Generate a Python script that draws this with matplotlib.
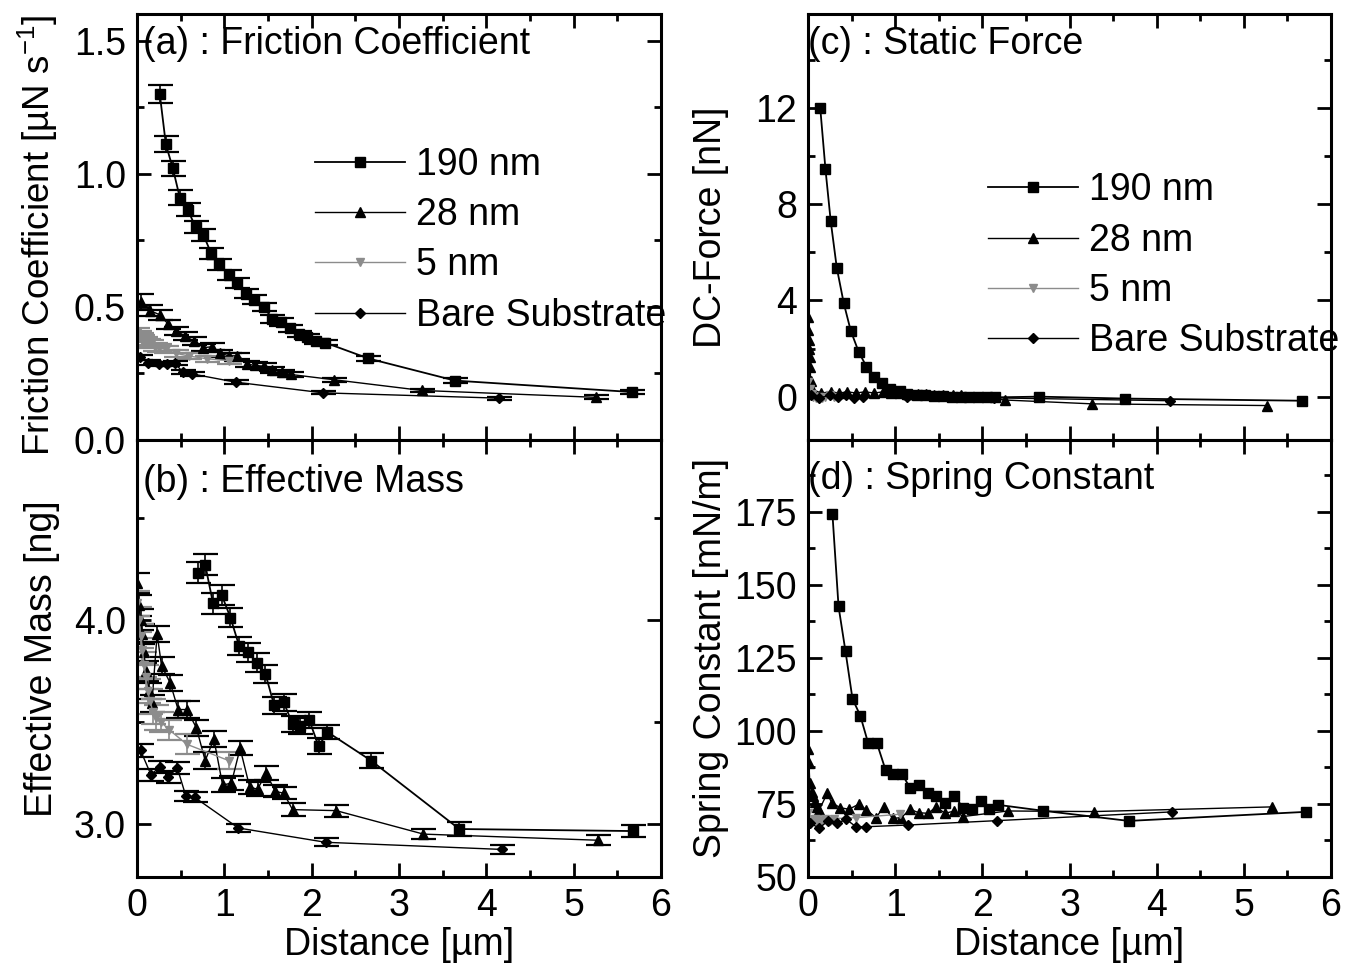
import matplotlib
matplotlib.use("Agg")
import matplotlib.pyplot as plt
from matplotlib.lines import Line2D
from matplotlib.ticker import MultipleLocator, FormatStrFormatter

plt.rcParams["font.family"] = ["Liberation Sans", "DejaVu Sans"]
plt.rcParams["mathtext.fontset"] = "custom"
plt.rcParams["mathtext.rm"] = "Liberation Sans"
plt.rcParams["mathtext.it"] = "Liberation Sans"

labels = ["190 nm", "28 nm", "5 nm", "Bare Substrate"]

# (a) friction coefficient [uN s^-1]
a190_x = [0.26, 0.33, 0.41, 0.49, 0.58, 0.67, 0.76, 0.85, 0.94, 1.05, 1.14, 1.25,
          1.34, 1.45, 1.55, 1.65, 1.75, 1.85, 1.95, 2.05, 2.15, 2.65, 3.64, 5.67]
a190_y = [1.30, 1.11, 1.02, 0.91, 0.865, 0.80, 0.77, 0.70, 0.66, 0.62, 0.59, 0.55,
          0.527, 0.50, 0.455, 0.443, 0.42, 0.397, 0.387, 0.37, 0.366, 0.306, 0.223, 0.18]
a190_e = [0.035, 0.03, 0.028, 0.027, 0.025, 0.024, 0.022, 0.02, 0.02, 0.018, 0.018, 0.017,
          0.016, 0.016, 0.015, 0.014, 0.013, 0.012, 0.012, 0.011, 0.01, 0.01, 0.008, 0.008]
a28_x = [0.05, 0.15, 0.26, 0.36, 0.45, 0.55, 0.65, 0.76, 0.86, 0.95, 1.05,
         1.15, 1.26, 1.35, 1.45, 1.55, 1.66, 1.76, 2.26, 3.26, 5.26]
a28_y = [0.52, 0.486, 0.47, 0.434, 0.41, 0.39, 0.372, 0.347, 0.35, 0.326, 0.316,
         0.316, 0.285, 0.28, 0.277, 0.263, 0.254, 0.246, 0.226, 0.186, 0.16]
a28_e = [0.03, 0.02, 0.018, 0.016, 0.015, 0.015, 0.014, 0.014, 0.013, 0.013, 0.012,
         0.012, 0.011, 0.011, 0.011, 0.01, 0.01, 0.01, 0.008, 0.007, 0.007]
a5_x = [0.0, 0.02, 0.04, 0.06, 0.09, 0.12, 0.16, 0.2, 0.25, 0.33, 0.45, 0.6, 0.8, 1.05]
a5_y = [0.40, 0.39, 0.385, 0.375, 0.37, 0.365, 0.36, 0.35, 0.345, 0.34, 0.325, 0.315, 0.305, 0.298]
a5_e = [0.02, 0.02, 0.018, 0.018, 0.016, 0.016, 0.015, 0.015, 0.014, 0.014, 0.013, 0.012, 0.012, 0.011]
aB_x = [0.03, 0.13, 0.25, 0.34, 0.43, 0.53, 0.63, 1.13, 2.13, 4.15]
aB_y = [0.31, 0.29, 0.285, 0.285, 0.288, 0.254, 0.248, 0.217, 0.177, 0.157]
aB_e = [0.01, 0.009, 0.009, 0.008, 0.008, 0.008, 0.008, 0.007, 0.006, 0.006]

# (b) effective mass [ng]
b190_x = [0.70, 0.78, 0.87, 0.97, 1.07, 1.17, 1.27, 1.37, 1.47, 1.57,
          1.68, 1.78, 1.87, 1.97, 2.08, 2.18, 2.68, 3.69, 5.68]
b190_y = [4.23, 4.27, 4.08, 4.12, 4.01, 3.87, 3.84, 3.79, 3.735, 3.58,
          3.595, 3.49, 3.48, 3.51, 3.38, 3.45, 3.31, 2.975, 2.965]
b190_e = [0.05, 0.05, 0.05, 0.05, 0.045, 0.045, 0.045, 0.045, 0.045, 0.04,
          0.04, 0.04, 0.04, 0.04, 0.04, 0.035, 0.035, 0.035, 0.03]
b28_x = [0.0, 0.02, 0.04, 0.06, 0.08, 0.10, 0.14, 0.17, 0.23, 0.28, 0.38, 0.47, 0.57,
         0.68, 0.78, 0.88, 0.98, 1.08, 1.18, 1.29, 1.38, 1.48, 1.58, 1.68, 1.78,
         2.28, 3.28, 5.28]
b28_y = [4.18, 4.07, 4.0, 3.93, 3.84, 3.75, 3.65, 3.59, 3.93, 3.775, 3.69, 3.56, 3.56,
         3.47, 3.31, 3.415, 3.19, 3.20, 3.37, 3.18, 3.17, 3.25, 3.16, 3.15, 3.07,
         3.065, 2.95, 2.92]
b28_e = [0.05, 0.05, 0.05, 0.05, 0.05, 0.05, 0.04, 0.04, 0.04, 0.04, 0.04, 0.04, 0.04,
         0.04, 0.04, 0.04, 0.035, 0.035, 0.035, 0.035, 0.035, 0.035, 0.03, 0.03, 0.03,
         0.03, 0.025, 0.025]
b5_x = [0.0, 0.02, 0.04, 0.06, 0.08, 0.10, 0.12, 0.15, 0.18, 0.22, 0.27, 0.37, 0.57, 1.05]
b5_y = [4.08, 4.0, 3.92, 3.85, 3.78, 3.72, 3.65, 3.6, 3.55, 3.52, 3.5, 3.46, 3.39, 3.31]
b5_e = [0.06, 0.06, 0.06, 0.06, 0.06, 0.06, 0.06, 0.06, 0.06, 0.06, 0.05, 0.05, 0.05, 0.04]
bB_x = [0.04, 0.16, 0.26, 0.36, 0.46, 0.56, 0.66, 1.16, 2.16, 4.18]
bB_y = [3.36, 3.24, 3.28, 3.23, 3.275, 3.135, 3.13, 2.98, 2.91, 2.875]
bB_e = [0.03, 0.03, 0.03, 0.03, 0.03, 0.025, 0.025, 0.02, 0.02, 0.02]

# (c) DC-force [nN]
c190_x = [0.14, 0.20, 0.26, 0.33, 0.41, 0.49, 0.58, 0.67, 0.76, 0.85, 0.94, 1.05, 1.14,
          1.25, 1.34, 1.45, 1.55, 1.65, 1.75, 1.85, 1.95, 2.05, 2.15, 2.65, 3.64, 5.67]
c190_y = [12.0, 9.45, 7.3, 5.35, 3.88, 2.74, 1.87, 1.25, 0.83, 0.55, 0.32, 0.25, 0.12,
          0.08, 0.05, 0.04, 0.02, 0.0, 0.0, -0.02, -0.02, 0.0, -0.03, 0.0, -0.08, -0.17]
c28_x = [0.0, 0.005, 0.01, 0.015, 0.02, 0.025, 0.03, 0.05, 0.15, 0.26, 0.36, 0.45, 0.55,
         0.65, 0.76, 0.86, 0.95, 1.05, 1.15, 1.26, 1.35, 1.45, 1.55, 1.66, 1.76,
         2.26, 3.26, 5.26]
c28_y = [3.29, 2.77, 2.35, 1.98, 1.66, 1.22, 0.66, 0.3, 0.15, 0.2, 0.15, 0.2, 0.15,
         0.2, 0.15, 0.2, 0.15, 0.15, 0.1, 0.1, 0.1, 0.05, 0.05, 0.05, 0.05,
         -0.14, -0.3, -0.37]
c5_x = [0.0, 0.02, 0.04, 0.06, 0.09, 0.12, 0.16, 0.2, 0.25, 0.3]
c5_y = [0.6, 0.3, 0.1, 0.0, -0.05, 0.0, -0.05, 0.0, 0.05, 0.0]
cB_x = [0.03, 0.13, 0.25, 0.34, 0.43, 0.53, 0.63, 1.13, 2.13, 4.15]
cB_y = [0.05, -0.05, 0.05, 0.0, 0.05, -0.05, 0.0, 0.0, -0.05, -0.17]

# (d) spring constant [mN/m]
d190_x = [0.28, 0.35, 0.43, 0.51, 0.60, 0.69, 0.79, 0.89, 0.98, 1.08, 1.17, 1.27,
          1.38, 1.47, 1.57, 1.68, 1.78, 1.88, 1.98, 2.08, 2.18, 2.69, 3.68, 5.71]
d190_y = [174.3, 142.6, 127.2, 111.0, 105.2, 95.8, 95.8, 86.6, 85.3, 85.3, 80.4, 81.5,
          78.7, 77.7, 75.2, 77.7, 73.7, 73.2, 76.1, 73.2, 74.7, 72.7, 69.2, 72.3]
d28_x = [0.0, 0.01, 0.02, 0.04, 0.06, 0.08, 0.10, 0.13, 0.22, 0.27, 0.37, 0.47, 0.58,
         0.67, 0.78, 0.87, 0.97, 1.07, 1.17, 1.27, 1.38, 1.47, 1.57, 1.68, 1.78,
         2.29, 3.28, 5.32]
d28_y = [93.7, 89.1, 82.1, 79.2, 77.7, 75.8, 74.0, 73.0, 78.7, 75.5, 73.7, 73.2, 74.9,
         73.0, 70.3, 74.1, 70.1, 70.3, 73.2, 72.0, 71.8, 74.1, 71.8, 72.6, 70.7,
         72.6, 72.4, 74.0]
d5_x = [0.0, 0.03, 0.06, 0.09, 0.12, 0.16, 0.2, 0.25, 0.3, 0.55, 1.06]
d5_y = [72.0, 70.0, 69.0, 70.0, 68.0, 69.0, 70.0, 69.0, 70.0, 70.3, 71.5]
dB_x = [0.02, 0.13, 0.23, 0.33, 0.44, 0.55, 0.66, 1.15, 2.17, 4.18]
dB_y = [68.4, 66.8, 69.2, 68.4, 69.7, 67.2, 67.2, 67.8, 69.3, 72.3]

FS = 27
styles = [
    dict(color="black", marker="s", ms=7, lw=1.3),
    dict(color="black", marker="^", ms=7, lw=1.0),
    dict(color="#8c8c8c", marker="v", ms=6, lw=1.0),
    dict(color="black", marker="D", ms=5.5, lw=1.0),
]

fig = plt.figure(figsize=(13.61, 9.71), dpi=100)
ax_a = fig.add_axes([0.1007, 0.5469, 0.385, 0.4387])
ax_b = fig.add_axes([0.1007, 0.0968, 0.385, 0.4501])
ax_c = fig.add_axes([0.5937, 0.5469, 0.3843, 0.4387])
ax_d = fig.add_axes([0.5937, 0.0968, 0.3843, 0.4501])

# panels with error bars
for ax, series in [
    (ax_a, [(a190_x, a190_y, a190_e), (a28_x, a28_y, a28_e), (a5_x, a5_y, a5_e), (aB_x, aB_y, aB_e)]),
    (ax_b, [(b190_x, b190_y, b190_e), (b28_x, b28_y, b28_e), (b5_x, b5_y, b5_e), (bB_x, bB_y, bB_e)]),
]:
    for (x, y, e), st in zip(series, styles):
        ax.errorbar(x, y, yerr=e, capsize=9, elinewidth=1.2, capthick=1.6, **st)

for ax, series in [
    (ax_c, [(c190_x, c190_y), (c28_x, c28_y), (c5_x, c5_y), (cB_x, cB_y)]),
    (ax_d, [(d190_x, d190_y), (d28_x, d28_y), (d5_x, d5_y), (dB_x, dB_y)]),
]:
    for (x, y), st in zip(series, styles):
        ax.plot(x, y, **st)

for ax in [ax_a, ax_b, ax_c, ax_d]:
    ax.set_xlim(0, 6)
    ax.xaxis.set_major_locator(MultipleLocator(1))
    ax.xaxis.set_minor_locator(MultipleLocator(0.5))
    ax.tick_params(which="both", direction="in", top=True, right=True, width=2, labelsize=FS)
    ax.tick_params(which="major", length=10, pad=8)
    ax.tick_params(which="minor", length=5)
    for sp in ax.spines.values():
        sp.set_linewidth(2.2)

for ax in [ax_a, ax_c]:
    ax.tick_params(labelbottom=False)
for ax in [ax_b, ax_d]:
    ax.set_xlabel("Distance [µm]", fontsize=FS, labelpad=2)

ax_a.set_ylim(0, 1.6)
ax_a.yaxis.set_major_locator(MultipleLocator(0.5))
ax_a.yaxis.set_minor_locator(MultipleLocator(0.25))
ax_a.set_ylabel("Friction Coefficient [µN s$^{-1}$]", fontsize=26.5)

ax_b.set_ylim(2.74, 4.88)
ax_b.yaxis.set_major_locator(MultipleLocator(1.0))
ax_b.yaxis.set_minor_locator(MultipleLocator(0.5))
ax_b.yaxis.set_major_formatter(FormatStrFormatter("%.1f"))
ax_b.set_ylabel("Effective Mass [ng]", fontsize=FS)

ax_c.set_ylim(-1.8, 15.9)
ax_c.yaxis.set_major_locator(MultipleLocator(4))
ax_c.yaxis.set_minor_locator(MultipleLocator(2))
ax_c.set_ylabel("DC-Force [nN]", fontsize=FS)

ax_d.set_ylim(50, 199.6)
ax_d.yaxis.set_major_locator(MultipleLocator(25))
ax_d.yaxis.set_minor_locator(MultipleLocator(12.5))
ax_d.set_ylabel("Spring Constant [mN/m]", fontsize=FS)

ax_a.yaxis.set_label_coords(-0.148, 0.48)
ax_b.yaxis.set_label_coords(-0.148, 0.5)
for ax in [ax_c, ax_d]:
    ax.yaxis.set_label_coords(-0.152, 0.5)

ax_a.text(0.012, 0.972, "(a) : Friction Coefficient", transform=ax_a.transAxes, fontsize=FS, va="top")
ax_b.text(0.012, 0.945, "(b) : Effective Mass", transform=ax_b.transAxes, fontsize=FS, va="top")
ax_c.text(0.0, 0.972, "(c) : Static Force", transform=ax_c.transAxes, fontsize=FS, va="top")
ax_d.text(0.0, 0.952, "(d) : Spring Constant", transform=ax_d.transAxes, fontsize=FS, va="top")

handles = [Line2D([], [], **st) for st in styles]
leg_kw = dict(frameon=False, fontsize=FS, handlelength=2.4, handletextpad=0.3,
              labelspacing=0.38, borderpad=0, borderaxespad=0, loc="upper left")
ax_a.legend(handles, labels, bbox_to_anchor=(0.34, 0.688), **leg_kw)
ax_c.legend(handles, labels, bbox_to_anchor=(0.344, 0.628), **leg_kw)

fig.savefig("out.png", dpi=100)
